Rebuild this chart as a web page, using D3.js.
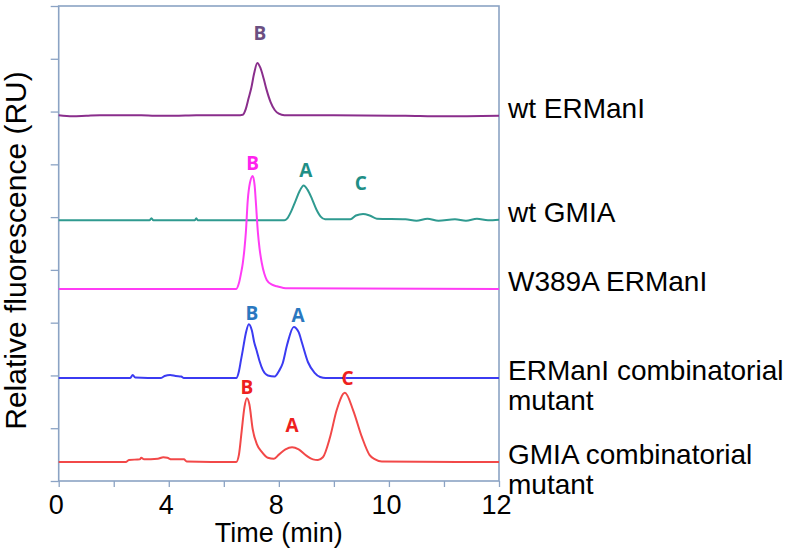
<!DOCTYPE html>
<html>
<head>
<meta charset="utf-8">
<script src="https://cdn.jsdelivr.net/npm/d3@7"></script>
<style>
  html, body { margin: 0; padding: 0; background: #ffffff; }
  svg { display: block; font-family: "Liberation Sans", Arial, Helvetica, sans-serif; }
</style>
</head>
<body>
<svg id="chart" width="793" height="553"></svg>
<script>
// ---------- data ----------
// x axis of the original is not uniform: labelled 0, 4, 8, 10, 12 at equal spacing
const xLabelValues = [0, 4, 8, 10, 12];
const xTickValues = [0, 2, 4, 6, 8, 9, 10, 11, 12];
const yTickValues = [0, 1, 2, 3, 4, 5, 6, 7, 8, 9];

const seriesNames = ["wt ERManI", "wt GMIA", "W389A ERManI", "ERManI combinatorial\nmutant", "GMIA combinatorial\nmutant"];
const seriesColors = ["#8a2e8c", "#2f9a90", "#ff3cf5", "#3b3bf2", "#f24848"];

const wtERManI = [[0,6.93],[0.5,6.91],[1.0,6.92],[1.5,6.93],[3,6.93],[3.5,6.92],[4.2,6.92],[5,6.93],[6.5,6.93],[6.69,6.94],[6.8,7.05],[6.9,7.25],[7.0,7.45],[7.1,7.72],[7.22,7.92],[7.32,7.84],[7.45,7.62],[7.55,7.42],[7.7,7.18],[7.85,7.03],[8.0,6.96],[8.1,6.93],[9,6.93],[10.3,6.92],[11,6.91],[12,6.92]];
const wtGMIA = [[0,4.94],[3.3,4.94],[3.37,4.98],[3.44,4.94],[4.95,4.94],[5.0,4.98],[5.05,4.94],[8.1,4.94],[8.15,4.97],[8.22,5.1],[8.3,5.3],[8.38,5.5],[8.45,5.6],[8.52,5.52],[8.6,5.35],[8.68,5.15],[8.76,5.01],[8.84,4.96],[9.3,4.96],[9.4,5.03],[9.53,5.06],[9.65,5.03],[9.78,4.97],[10.3,4.96],[10.5,4.93],[10.7,4.97],[10.9,4.93],[11.2,4.96],[11.4,4.93],[11.6,4.97],[11.8,4.94],[12,4.95]];
const w389A = [[0,3.64],[6.45,3.64],[6.55,3.75],[6.62,3.92],[6.69,4.13],[6.75,4.4],[6.8,4.7],[6.87,5.32],[6.95,5.65],[7.05,5.78],[7.12,5.6],[7.16,5.32],[7.24,4.7],[7.3,4.4],[7.38,4.13],[7.47,3.93],[7.56,3.81],[7.75,3.72],[7.93,3.69],[8.16,3.65],[12,3.64]];
const erCombo = [[0,1.95],[2.6,1.95],[2.69,2.01],[2.78,1.96],[3.7,1.95],[3.85,1.99],[4.05,2.01],[4.25,1.99],[4.45,1.98],[4.55,1.95],[6.45,1.95],[6.55,2.08],[6.62,2.28],[6.69,2.48],[6.8,2.8],[6.91,2.97],[7.02,2.85],[7.1,2.64],[7.2,2.46],[7.3,2.27],[7.42,2.1],[7.6,2.0],[7.85,1.98],[8.0,2.08],[8.07,2.23],[8.15,2.58],[8.27,2.92],[8.36,2.82],[8.42,2.62],[8.53,2.25],[8.65,2.05],[8.75,1.97],[8.85,1.95],[12,1.95]];
const gmCombo = [[0,0.36],[2.45,0.36],[2.55,0.4],[2.95,0.41],[3.0,0.44],[3.1,0.41],[3.6,0.42],[3.8,0.45],[3.95,0.44],[4.1,0.41],[4.55,0.41],[4.65,0.37],[6.45,0.36],[6.55,0.5],[6.65,0.95],[6.75,1.4],[6.84,1.57],[6.93,1.45],[7.05,0.98],[7.2,0.7],[7.38,0.55],[7.6,0.44],[7.82,0.42],[8.0,0.5],[8.12,0.6],[8.24,0.64],[8.36,0.6],[8.5,0.48],[8.62,0.41],[8.71,0.4],[8.8,0.45],[8.93,0.83],[9.05,1.34],[9.2,1.67],[9.35,1.34],[9.51,0.83],[9.65,0.49],[9.75,0.41],[9.87,0.37],[12,0.36]];
const seriesData = [wtERManI, wtGMIA, w389A, erCombo, gmCombo];

// peak annotations: [series index, letter, time, value]
const peakLabels = [
  [0, "B", 7.31, 8.48],
  [1, "A", 8.49, 5.89],
  [1, "C", 9.49, 5.64],
  [2, "B", 7.05, 6.02],
  [3, "B", 7.02, 3.18],
  [3, "A", 8.35, 3.14],
  [4, "B", 6.84, 1.78],
  [4, "A", 8.24, 1.06],
  [4, "C", 9.25, 1.95]
];
const peakColors = ["#6b4f82", "#1f8f86", "#ff22ee", "#2a78c0", "#ee2020"];

// ---------- layout ----------
const plotL = 58.7, plotR = 499, plotT = 6, plotB = 481;
const svg = d3.select("#chart");
const frameColor = "#8ba3c4";

const x = d3.scaleLinear()
  .domain(xLabelValues)
  .range(xLabelValues.map((d, i) => plotL + i * (plotR - plotL) / (xLabelValues.length - 1)));
const y = d3.scaleLinear().domain([0, 9]).range([plotB, plotT]);

// axes
const xAxis = d3.axisBottom(x).tickValues(xTickValues).tickSize(6)
  .tickFormat(d => xLabelValues.includes(d) ? String(d) : "");
const gx = svg.append("g").attr("transform", `translate(0,${plotB})`).call(xAxis);
gx.select(".domain").remove();
gx.selectAll(".tick line").attr("stroke", frameColor).attr("stroke-width", 1.3);
gx.selectAll(".tick text").attr("font-size", 27).attr("fill", "#000")
  .attr("font-family", '"Liberation Sans", Arial, sans-serif')
  .attr("dy", null).attr("y", 33).attr("dx", -3);

const yAxis = d3.axisLeft(y).tickValues(yTickValues).tickSize(8).tickFormat("");
const gy = svg.append("g").attr("transform", `translate(${plotL},0)`).call(yAxis);
gy.select(".domain").remove();
gy.selectAll(".tick line").attr("stroke", frameColor).attr("stroke-width", 1.3);

// frame
svg.append("rect")
  .attr("x", plotL).attr("y", plotT)
  .attr("width", plotR - plotL).attr("height", plotB - plotT)
  .attr("fill", "none").attr("stroke", frameColor).attr("stroke-width", 1.6);

// lines
const line = d3.line().x(d => x(d[0])).y(d => y(d[1])).curve(d3.curveMonotoneX);
seriesData.forEach((s, i) => {
  svg.append("path").datum(s)
    .attr("d", line)
    .attr("fill", "none")
    .attr("stroke", seriesColors[i])
    .attr("stroke-width", 2)
    .attr("stroke-linejoin", "round");
});

// peak letters
svg.append("g").selectAll("text").data(peakLabels).join("text")
  .attr("x", d => x(d[2])).attr("y", d => y(d[3]))
  .attr("text-anchor", "middle").attr("dominant-baseline", "central")
  .attr("font-family", '"Open Sans", "Liberation Sans", sans-serif')
  .attr("font-weight", "bold").attr("font-size", 19)
  .attr("fill", d => peakColors[d[0]])
  .text(d => d[1]);

// series names to the right
seriesNames.forEach((name, i) => {
  const base = y(seriesData[i][seriesData[i].length - 1][1]) + 2;
  const t = svg.append("text")
    .attr("x", plotR + 9).attr("y", base)
    .attr("font-size", 28).attr("fill", "#000");
  name.split("\n").forEach((ln, j) => {
    t.append("tspan").attr("x", plotR + 9).attr("dy", j === 0 ? 0 : 30).text(ln);
  });
});

// axis titles
svg.append("text")
  .attr("x", (plotL + plotR) / 2).attr("y", 542)
  .attr("text-anchor", "middle").attr("font-size", 27).attr("fill", "#000")
  .text("Time (min)");
svg.append("text")
  .attr("transform", `translate(26,${(plotT + plotB) / 2 + 7}) rotate(-90)`)
  .attr("text-anchor", "middle").attr("font-size", 30).attr("fill", "#000")
  .text("Relative fluorescence (RU)");
</script>
</body>
</html>
